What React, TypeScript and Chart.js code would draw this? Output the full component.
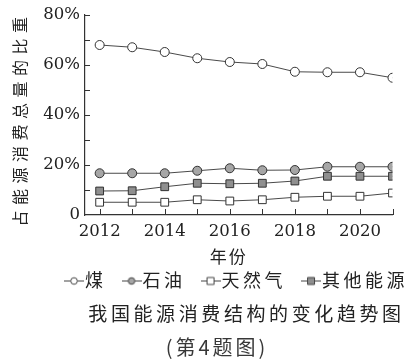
import React, { useEffect, useRef } from 'react';
import { Chart, registerables } from 'chart.js';

Chart.register(...registerables);

// ---- data ----
const years = [2012, 2013, 2014, 2015, 2016, 2017, 2018, 2019, 2020, 2021];
const coal = [68.0, 67.1, 65.2, 62.7, 61.2, 60.4, 57.3, 57.1, 57.1, 54.9];
const oil = [16.7, 16.7, 16.7, 17.7, 18.7, 17.9, 18.0, 19.3, 19.3, 19.3];
const gas = [5.1, 5.1, 5.1, 6.1, 5.6, 6.1, 7.1, 7.5, 7.5, 8.8];
const other = [9.6, 9.7, 11.3, 12.7, 12.5, 12.7, 13.6, 15.5, 15.5, 15.5];
const seriesNames = ['煤', '石油', '天然气', '其他能源'];
const xLabelYears = [2012, 2014, 2016, 2018, 2020];
const yLabelValues = [0, 20, 40, 60, 80];
const yMarkValues = [10, 20, 30, 40, 50, 60, 70, 80];
const xAxisTitle = '年份';
const yAxisTitle = '占能源消费总量的比重';
const chartTitle = '我国能源消费结构的变化趋势图';
const chartSubtitle = '(第4题图)';

const INK = '#222';
const LINE = '#4a4a4a';
const CJK = '"Noto Sans CJK SC", sans-serif';
const SERIF = '"DejaVu Serif", serif';

function legendMarker(shape: 'circle' | 'rect', fill: string): HTMLCanvasElement {
  const c = document.createElement('canvas');
  c.width = 20;
  c.height = 12;
  const g = c.getContext('2d')!;
  g.strokeStyle = '#444';
  g.lineWidth = 1;
  g.beginPath();
  g.moveTo(0, 6.5);
  g.lineTo(20, 6.5);
  g.stroke();
  g.fillStyle = fill;
  g.beginPath();
  if (shape === 'circle') g.arc(10, 6.5, 3.3, 0, Math.PI * 2);
  else g.rect(6.5, 3, 7, 7);
  g.fill();
  g.stroke();
  return c;
}

// wrap a drawing/measuring method so its text gets letter spacing (and an optional nudge)
function wrapMethod(obj: any, name: string, spacing: number, dx = 0, dy = 0) {
  if (!obj || obj['__w_' + name]) return;
  const orig = obj[name];
  obj[name] = function (...args: any[]) {
    const ctx = this.ctx;
    ctx.save();
    ctx.letterSpacing = spacing + 'px';
    ctx.translate(dx, dy);
    const r = orig.apply(this, args);
    ctx.restore();
    return r;
  };
  obj['__w_' + name] = true;
}

const textSpacing = {
  id: 'textSpacing',
  beforeLayout(chart: any) {
    wrapMethod(chart.scales.y, 'drawTitle', 5.5, 0, 4);
    wrapMethod(chart.scales.x, 'drawTitle', 2, -10, 0);
    if (chart.legend) {
      wrapMethod(chart.legend, 'fit', 3.5);
      wrapMethod(chart.legend, 'draw', 3.5);
    }
    (chart.boxes || []).forEach((b: any) => {
      const t = b && b.options && b.options.text;
      if (t === chartTitle) wrapMethod(b, 'draw', 3.6, 31, 0);
      else if (t === chartSubtitle) wrapMethod(b, 'draw', 3, 1.5, 0);
    });
  },
};

const innerTicks = {
  id: 'innerTicks',
  beforeDatasetsDraw(chart: any) {
    const { ctx, chartArea } = chart;
    const xs = chart.scales.x;
    const ys = chart.scales.y;
    ctx.save();
    ctx.strokeStyle = '#333';
    ctx.lineWidth = 1;
    ctx.beginPath();
    years.forEach((yr) => {
      const px = Math.round(xs.getPixelForValue(yr)) + 0.5;
      ctx.moveTo(px, chartArea.bottom);
      ctx.lineTo(px, chartArea.bottom - 6);
    });
    yMarkValues.forEach((v) => {
      const py = Math.round(ys.getPixelForValue(v)) + 0.5;
      ctx.moveTo(chartArea.left, py);
      ctx.lineTo(chartArea.left + 5, py);
    });
    ctx.stroke();
    ctx.restore();
  },
};

export default function App() {
  const ref = useRef<HTMLCanvasElement>(null);

  useEffect(() => {
    const canvas = ref.current;
    if (!canvas) return;

    const markers = [
      legendMarker('circle', '#ffffff'),
      legendMarker('circle', '#a6a6a6'),
      legendMarker('rect', '#ffffff'),
      legendMarker('rect', '#8f8f8f'),
    ];

    const mk = (vals: number[]) => years.map((x, i) => ({ x, y: vals[i] }));
    const base = {
      borderColor: LINE,
      borderWidth: 1,
      pointBorderColor: '#333',
      pointBorderWidth: 1,
      tension: 0,
      fill: false,
    };

    const chart = new Chart(canvas, {
      type: 'line',
      data: {
        datasets: [
          { ...base, label: seriesNames[0], data: mk(coal), pointStyle: 'circle', pointRadius: 4.5, pointBackgroundColor: '#ffffff' },
          { ...base, label: seriesNames[1], data: mk(oil), pointStyle: 'circle', pointRadius: 4.5, pointBackgroundColor: '#a6a6a6' },
          { ...base, label: seriesNames[2], data: mk(gas), pointStyle: 'rect', pointRadius: 5.5, pointBackgroundColor: '#ffffff' },
          { ...base, label: seriesNames[3], data: mk(other), pointStyle: 'rect', pointRadius: 5.5, pointBackgroundColor: '#8f8f8f' },
        ],
      },
      options: {
        responsive: false,
        animation: false,
        devicePixelRatio: 1,
        layout: { padding: { top: 15, right: -19, left: 0, bottom: 0 } },
        scales: {
          x: {
            type: 'linear',
            min: 2011.55,
            max: 2021,
            grid: { display: false, drawTicks: false },
            border: { display: true, color: '#333', width: 1.2 },
            ticks: {
              stepSize: 1,
              includeBounds: false,
              autoSkip: false,
              maxRotation: 0,
              padding: 7,
              color: INK,
              font: { family: SERIF, size: 16.5 },
              callback: (v: any) => (xLabelYears.includes(Number(v)) ? String(v) : ''),
            },
            title: {
              display: true,
              text: xAxisTitle,
              color: INK,
              font: { family: CJK, size: 17 },
              padding: { top: 0, bottom: -18.2 },
            },
            afterFit: (s: any) => {
              s.height = 33.5;
            },
          },
          y: {
            min: 0,
            max: 80,
            grid: { display: false, drawTicks: false },
            border: { display: true, color: '#333', width: 1.2 },
            ticks: {
              stepSize: 20,
              padding: 5,
              color: INK,
              font: { family: SERIF, size: 16.5 },
              callback: (v: any) => (yLabelValues.includes(Number(v)) ? (Number(v) === 0 ? '0' : v + '%') : ''),
            },
            title: {
              display: true,
              text: yAxisTitle,
              color: INK,
              font: { family: CJK, size: 16 },
              padding: { top: 10.4, bottom: 0 },
            },
            afterFit: (s: any) => {
              s.width = 85;
            },
          },
          y2: {
            position: 'right',
            display: true,
            grid: { display: false, drawTicks: false },
            border: { display: false },
            ticks: { display: false },
            afterFit: (s: any) => {
              s.width = 38.5;
            },
          },
        },
        plugins: {
          legend: {
            position: 'bottom',
            align: 'end',
            labels: {
              usePointStyle: true,
              pointStyleWidth: 4,
              padding: 23,
              color: INK,
              font: { family: CJK, size: 18 },
              generateLabels: (c: any) =>
                c.data.datasets.map((ds: any, i: number) => ({
                  text: ds.label,
                  pointStyle: markers[i],
                  fillStyle: ds.pointBackgroundColor,
                  strokeStyle: '#333',
                  fontColor: INK,
                  lineWidth: 1,
                  hidden: false,
                  datasetIndex: i,
                })),
            },
          },
          title: {
            display: true,
            position: 'bottom',
            fullSize: true,
            weight: 1200,
            text: chartTitle,
            color: INK,
            font: { family: CJK, size: 19, weight: 'normal', lineHeight: 1 },
            padding: { top: 4.5, bottom: 0 },
          },
          subtitle: {
            display: true,
            position: 'bottom',
            weight: 1500,
            text: chartSubtitle,
            color: '#383838',
            font: { family: CJK, size: 20, lineHeight: 1 },
            padding: { top: 14.5, bottom: 2.5 },
          },
          tooltip: { enabled: false },
        },
      } as any,
      plugins: [textSpacing, innerTicks],
    });

    return () => chart.destroy();
  }, []);

  return (
    <div style={{ position: 'absolute', left: 0, top: 0, width: 412, height: 360, background: '#ffffff' }}>
      <canvas ref={ref} width={412} height={360} style={{ display: 'block', width: 412, height: 360 }} />
    </div>
  );
}
